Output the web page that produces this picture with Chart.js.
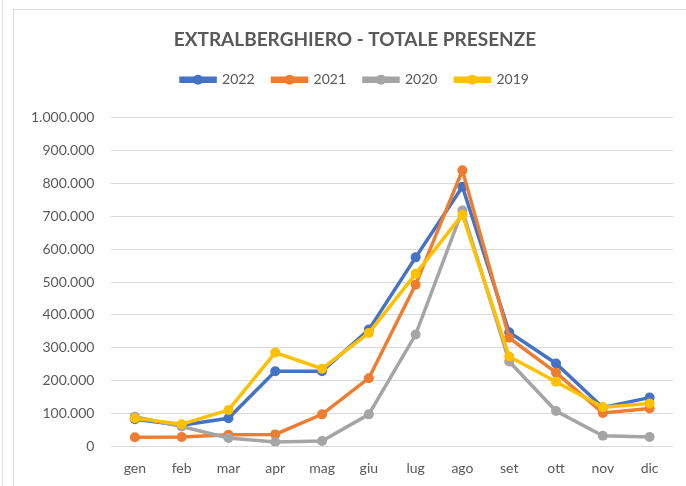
<!DOCTYPE html>
<html>
<head>
<meta charset="utf-8">
<script src="https://cdn.jsdelivr.net/npm/chart.js@4"></script>
<style>
  html, body { margin: 0; padding: 0; background: #fff; }
  body { width: 686px; height: 486px; position: relative; overflow: hidden; }
  .edge { position: absolute; left: 2px; top: 0; width: 1px; height: 486px; background: #e3e3e3; }
  .frame { position: absolute; left: 13px; top: 9px; width: 690px; height: 500px; border: 1px solid #d9d9d9; }
  .box { position: absolute; left: 14px; top: 10px; width: 682px; height: 476px; }
</style>
</head>
<body>
<div class="edge"></div>
<div class="frame"></div>
<div class="box"><canvas id="chart"></canvas></div>
<script>
const months = ['gen', 'feb', 'mar', 'apr', 'mag', 'giu', 'lug', 'ago', 'set', 'ott', 'nov', 'dic']
const y2022 = [82000, 64000, 85000, 228000, 228000, 355000, 575000, 790000, 347000, 252000, 118000, 148000]
const y2021 = [27000, 28000, 35000, 36000, 97000, 207000, 492000, 840000, 330000, 224000, 101000, 115000]
const y2020 = [90000, 60000, 25000, 13000, 16000, 97000, 340000, 718000, 258000, 107000, 32000, 28000]
const y2019 = [85000, 67000, 110000, 285000, 236000, 345000, 525000, 705000, 273000, 196000, 119000, 130000]

const font = 'Lato, "Open Sans", sans-serif'
const textColor = '#595959'

function series(label, data, color, order) {
  return {
    label: label,
    data: data,
    borderColor: color,
    backgroundColor: color,
    borderWidth: 3.5,
    pointRadius: 5,
    pointHoverRadius: 5,
    pointBorderWidth: 0,
    tension: 0,
    order: order,
  }
}

// dot in the middle of each legend line, like Excel
const legendDots = {
  id: 'legendDots',
  afterDraw(chart) {
    const legend = chart.legend
    if (!legend || !legend.legendHitBoxes) return
    const ctx = chart.ctx
    const boxW = legend.options.labels.boxWidth
    legend.legendHitBoxes.forEach((hb, i) => {
      const item = legend.legendItems[i]
      ctx.save()
      ctx.fillStyle = item.strokeStyle
      ctx.beginPath()
      ctx.arc(hb.left + boxW / 2, hb.top + hb.height / 2, 5, 0, Math.PI * 2)
      ctx.fill()
      ctx.restore()
    })
  }
}

// more room under the legend
const legendGap = {
  id: 'legendGap',
  beforeInit(chart) {
    const fit = chart.legend.fit
    chart.legend.fit = function () {
      fit.bind(chart.legend)()
      this.height += 21
    }
  }
}

new Chart(document.getElementById('chart'), {
  type: 'line',
  data: {
    labels: months,
    datasets: [
      series('2022', y2022, '#4472C4', 3),
      series('2021', y2021, '#ED7D31', 2),
      series('2020', y2020, '#A5A5A5', 1),
      series('2019', y2019, '#FFC000', 0),
    ],
  },
  options: {
    responsive: true,
    maintainAspectRatio: false,
    animation: false,
    layout: { padding: { left: 0, right: 0, top: 18, bottom: 3 } },
    plugins: {
      title: {
        display: true,
        text: 'EXTRALBERGHIERO - TOTALE PRESENZE',
        color: textColor,
        font: { family: font, size: 19, weight: 'bold' },
        padding: { top: 0, bottom: 4 },
      },
      legend: {
        position: 'top',
        labels: {
          color: textColor,
          font: { family: font, size: 14 },
          boxWidth: 34,
          boxHeight: 3,
          padding: 18,
          sort: (a, b) => a.datasetIndex - b.datasetIndex,
        },
      },
      tooltip: { enabled: false },
    },
    scales: {
      x: {
        offset: true,
        grid: { display: false },
        border: { display: false },
        ticks: { color: textColor, font: { family: font, size: 14 }, padding: 6 },
      },
      y: {
        min: 0,
        max: 1000000,
        ticks: {
          stepSize: 100000,
          color: textColor,
          font: { family: font, size: 14 },
          padding: 17,
          callback: (v) => String(v).replace(/\B(?=(\d{3})+(?!\d))/g, '.'),
        },
        grid: { color: '#d9d9d9', lineWidth: 1, drawTicks: false },
        border: { display: false },
      },
      // empty spacer on the right so title and legend stay centred on the frame
      spacer: {
        position: 'right',
        grid: { display: false },
        border: { display: false },
        ticks: { display: false },
        afterFit(scale) { scale.width = 23 },
      },
    },
  },
  plugins: [legendDots, legendGap],
})
</script>
</body>
</html>
